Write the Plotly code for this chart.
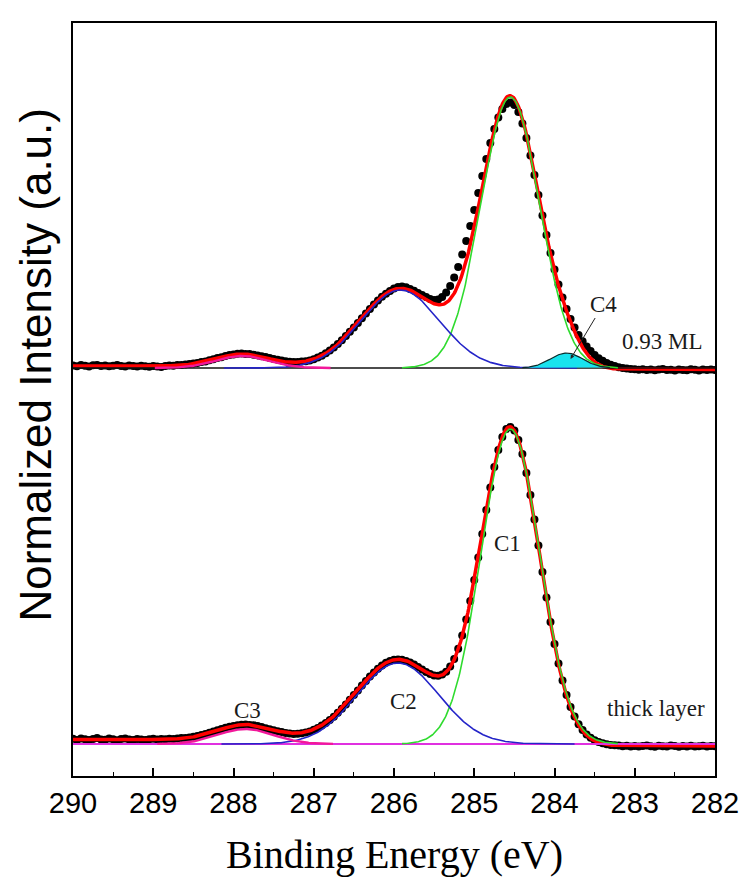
import numpy as np
import plotly.graph_objects as go

# ---------------- data (binding energy grid, eV) ----------------
E_START, E_STOP, E_STEP = 290.0, 282.0, 0.05
energy = np.round(np.arange(E_START, E_STOP - 1e-9, -E_STEP), 2)

# measured intensities (a.u.), 0.93 ML sample, from 290.00 eV down to 282.00 eV
ml_intensity = [
    2.4, 1.8, 2.9, 2.2, 1.6, 2.7, 3.1, 2.0, 2.5, 1.7,
    2.3, 2.9, 2.1, 1.5, 2.6, 2.0, 1.4, 2.2, 1.8, 1.3,
    2.0, 1.6, 1.1, 1.9, 2.4, 2.2, 2.9, 3.1, 3.6, 3.9,
    4.6, 5.0, 5.9, 6.6, 7.8, 8.7, 9.9, 10.8, 12.0, 12.9,
    13.6, 14.2, 14.5, 14.1, 13.9, 13.2, 12.6, 11.7, 10.9, 10.0,
    9.0, 8.2, 7.4, 6.8, 6.3, 6.1, 6.0, 6.4, 6.8, 7.6,
    8.8, 10.4, 12.3, 14.8, 17.5, 20.6, 24.0, 27.8, 31.9, 36.2,
    40.6, 45.1, 49.8, 54.5, 59.0, 63.4, 67.5, 71.2, 74.3, 77.0,
    79.4, 81.0, 81.6, 80.8, 79.0, 77.2, 75.0, 73.0, 71.0, 69.0,
    68.0, 68.5, 71.0, 75.5, 82.0, 90.5, 101.0, 113.5, 127.0, 142.0,
    158.0, 175.0, 192.0, 209.0, 225.0, 239.0, 250.5, 259.0, 264.0, 265.5,
    263.0, 256.0, 244.5, 230.0, 212.5, 193.0, 173.0, 152.5, 133.0, 115.0,
    98.5, 83.5, 70.5, 59.0, 49.0, 40.5, 33.0, 26.8, 21.5, 17.0,
    13.0, 9.8, 7.2, 5.0, 3.2, 1.9, 0.8, 0.0, -0.6, -1.0,
    -1.3, -1.8, -1.2, -2.0, -1.5, -2.3, -1.6, -1.1, -2.0, -1.7,
    -2.4, -1.4, -1.9, -2.2, -1.3, -1.8, -2.5, -1.6, -2.1, -1.4,
    -1.9,
]

# measured intensities (a.u.), thick layer, from 290.00 eV down to 282.00 eV
thick_intensity = [
    5.2, 4.1, 5.6, 4.8, 3.9, 5.0, 5.9, 4.6, 4.2, 5.4,
    4.7, 3.8, 4.9, 5.5, 4.4, 4.0, 5.1, 4.6, 3.9, 4.8,
    5.3, 4.5, 4.9, 4.8, 5.2, 4.9, 5.4, 5.9, 6.1, 6.6,
    7.3, 7.9, 9.0, 10.0, 11.3, 12.4, 13.8, 15.0, 16.2, 17.2,
    18.1, 18.8, 19.3, 19.4, 19.1, 18.7, 17.9, 17.0, 15.8, 14.8,
    13.8, 12.7, 11.9, 11.1, 10.4, 10.1, 10.3, 10.7, 11.4, 12.5,
    14.2, 16.0, 18.4, 21.0, 23.9, 27.3, 31.2, 35.3, 39.6, 44.2,
    48.9, 53.6, 58.5, 63.0, 67.4, 71.4, 75.2, 78.5, 81.2, 83.1,
    84.2, 84.6, 84.2, 83.1, 81.5, 79.4, 77.0, 74.4, 72.0, 69.9,
    68.6, 68.3, 69.4, 72.3, 77.5, 85.0, 95.3, 108.5, 124.5, 143.0,
    164.0, 186.5, 210.0, 234.0, 256.5, 277.0, 294.0, 307.0, 315.0, 317.0,
    313.5, 304.0, 290.0, 271.0, 249.0, 224.5, 198.5, 172.0, 146.5, 122.0,
    100.0, 80.5, 63.5, 49.0, 37.0, 27.5, 19.8, 14.0, 9.5, 6.2,
    3.8, 2.0, 0.8, -0.2, -0.9, -1.3, -1.6, -2.2, -1.7, -2.4,
    -1.9, -2.6, -2.1, -1.5, -2.3, -2.8, -1.8, -2.2, -2.6, -1.6,
    -2.1, -2.7, -1.9, -2.4, -1.7, -2.5, -2.2, -1.8, -2.6, -2.0,
    -2.3,
]

# fitted Gaussian components: name, centre (eV), height, FWHM (eV), drawn half-range (eV)
ml_names = ["C1", "C2", "C3", "C4"]
ml_centres = [284.55, 285.92, 287.89, 283.85]
ml_heights = [271.0, 78.0, 12.0, 15.0]
ml_fwhm = [0.86, 1.15, 0.78, 0.47]
ml_halfrange = [1.35, 2.2, 1.1, 0.55]
ml_bg = [2.0, -1.5]          # Shirley background: high-BE side, low-BE side

thick_names = ["C1", "C2", "C3"]
thick_centres = [284.55, 285.95, 287.85]
thick_heights = [315.0, 81.0, 15.0]
thick_fwhm = [0.86, 1.20, 0.82]
thick_halfrange = [1.35, 2.2, 1.1]
thick_bg = [4.5, -2.0]

ML_OFFSET = 376.0            # vertical offset of the 0.93 ML spectrum

x_ticks = [290, 289, 288, 287, 286, 285, 284, 283, 282]
x_tick_labels = ["290", "289", "288", "287", "286", "285", "284", "283", "282"]
x_minor = [289.5, 288.5, 287.5, 286.5, 285.5, 284.5, 283.5, 282.5]

COMP_COLORS = {"C1": "#2EDB2E", "C2": "#2424C8", "C3": "#F2189A", "C4": "#000000"}

# ---------------- fit model ----------------
fine = np.round(np.arange(282.0, 290.0001, 0.01), 2)


def gauss(x, c, h, fwhm):
    s = fwhm / 2.3548
    return h * np.exp(-(x - c) ** 2 / (2 * s * s))


def model(centres, heights, fwhm, bg):
    comps = [gauss(fine, c, h, w) for c, h, w in zip(centres, heights, fwhm)]
    total = np.sum(comps, axis=0)
    cum = np.cumsum(total)
    cum = cum / cum[-1]
    background = bg[1] + (bg[0] - bg[1]) * cum
    return comps, total + background


ml_comps, ml_env = model(ml_centres, ml_heights, ml_fwhm, ml_bg)
th_comps, th_env = model(thick_centres, thick_heights, thick_fwhm, thick_bg)

fig = go.Figure()

# data points
fig.add_trace(go.Scatter(x=energy, y=np.array(thick_intensity), mode="markers",
                         marker=dict(color="black", size=8), hoverinfo="skip"))
fig.add_trace(go.Scatter(x=energy, y=np.array(ml_intensity) + ML_OFFSET, mode="markers",
                         marker=dict(color="black", size=8), hoverinfo="skip"))

# envelopes
fig.add_trace(go.Scatter(x=fine, y=th_env, mode="lines", line=dict(color="#FF0000", width=3.5)))
fig.add_trace(go.Scatter(x=fine, y=ml_env + ML_OFFSET, mode="lines", line=dict(color="#FF0000", width=3.5)))

# baselines
fig.add_trace(go.Scatter(x=[E_START, E_STOP], y=[ML_OFFSET, ML_OFFSET], mode="lines",
                         line=dict(color="#111111", width=1.5)))
fig.add_trace(go.Scatter(x=[E_START, E_STOP], y=[0, 0], mode="lines",
                         line=dict(color="#E030E0", width=2.2)))

# components (thick layer)
for name, c, comp, hr in zip(thick_names, thick_centres, th_comps, thick_halfrange):
    m = np.abs(fine - c) <= hr
    fig.add_trace(go.Scatter(x=fine[m], y=comp[m], mode="lines",
                             line=dict(color=COMP_COLORS[name], width=2.4 if name == "C3" else 1.6)))

# components (0.93 ML)
for name, c, comp, hr in zip(ml_names, ml_centres, ml_comps, ml_halfrange):
    m = np.abs(fine - c) <= hr
    if name == "C4":
        fig.add_trace(go.Scatter(x=fine[m], y=comp[m] + ML_OFFSET, mode="lines",
                                 fill="toself", fillcolor="#19E3EE",
                                 line=dict(color="#0A2A2A", width=1.2)))
    else:
        fig.add_trace(go.Scatter(x=fine[m], y=comp[m] + ML_OFFSET, mode="lines",
                                 line=dict(color=COMP_COLORS[name], width=2.4 if name == "C3" else 1.6)))

serif = "Liberation Serif, Times New Roman, serif"
sans = "Liberation Sans, Arial, sans-serif"
lab_font = dict(family=serif, size=23, color="#1a1a1a")

annotations = [
    dict(x=284.58, y=201, text="C1", showarrow=False, font=lab_font),
    dict(x=285.885, y=43, text="C2", showarrow=False, font=lab_font),
    dict(x=287.83, y=34, text="C3", showarrow=False, font=lab_font),
    dict(x=282.73, y=36, text="thick layer", showarrow=False, font=lab_font),
    dict(x=282.65, y=403, text="0.93 ML", showarrow=False, font=lab_font),
    dict(x=283.80, y=385, text="C4", showarrow=True, ax=33, ay=-55,
         arrowhead=2, arrowsize=0.8, arrowwidth=1, arrowcolor="#222222", standoff=0,
         font=lab_font),
    dict(xref="paper", yref="paper", x=0.5008, y=-0.104, text="Binding Energy (eV)",
         showarrow=False, font=dict(family=serif, size=40, color="black"),
         xanchor="center", yanchor="middle"),
    dict(xref="paper", yref="paper", x=-0.0599, y=0.5458, text="Normalized Intensity (a.u.)",
         showarrow=False, textangle=-90, font=dict(family=sans, size=44, color="black"),
         xanchor="center", yanchor="middle"),
]

fig.update_layout(
    width=751, height=878,
    margin=dict(l=73, r=27, t=23, b=102),
    paper_bgcolor="white", plot_bgcolor="white",
    showlegend=False,
    annotations=annotations,
    xaxis=dict(range=[290, 282], tickmode="array", tickvals=x_ticks, ticktext=x_tick_labels,
               ticks="inside", ticklen=8, tickwidth=1.5, tickcolor="black",
               minor=dict(tickvals=x_minor, ticks="inside", ticklen=4, tickwidth=1.2, tickcolor="black"),
               showline=True, linecolor="black", linewidth=1.5, mirror=True,
               showgrid=False, zeroline=False,
               tickfont=dict(family=sans, size=29, color="black")),
    yaxis=dict(range=[-32, 721], showticklabels=False, ticks="",
               showline=True, linecolor="black", linewidth=1.5, mirror=True,
               showgrid=False, zeroline=False),
)

# remove the default 8px page margin so the figure fills the window exactly
fig.write_html("out.html", config={"displayModeBar": False},
               post_script="document.body.style.margin='0px';")
